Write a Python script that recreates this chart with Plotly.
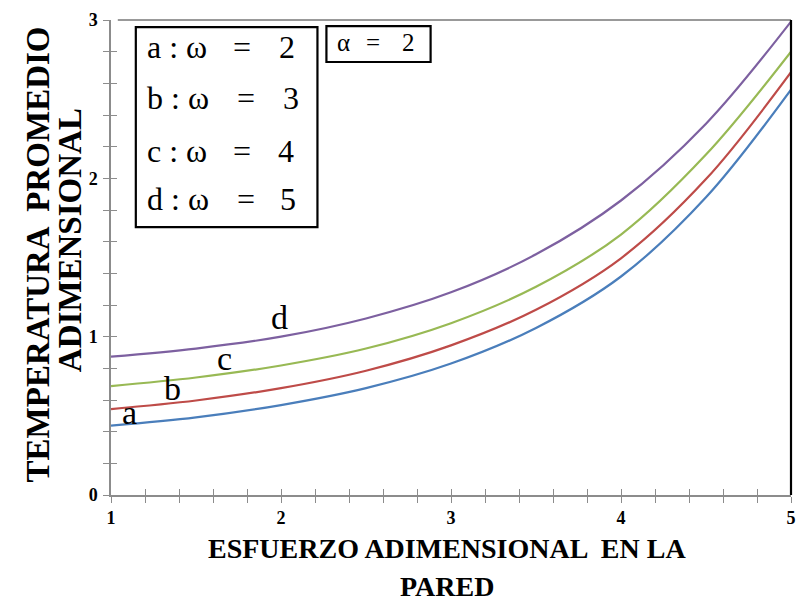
import plotly.graph_objects as go

# Dimensionless wall stress (x) and mean temperature for each omega
esfuerzo = [1.0, 1.5, 2.0, 2.5, 3.0, 3.5, 4.0, 4.5, 5.0]
temp_a = [0.438, 0.490, 0.568, 0.675, 0.830, 1.055, 1.380, 1.880, 2.56]
temp_b = [0.543, 0.597, 0.675, 0.785, 0.945, 1.170, 1.495, 1.995, 2.67]
temp_c = [0.688, 0.742, 0.818, 0.925, 1.085, 1.315, 1.645, 2.150, 2.80]
temp_d = [0.874, 0.925, 1.000, 1.115, 1.280, 1.520, 1.860, 2.345, 2.99]

curve_names = ["a", "b", "c", "d"]
omega_values = [2, 3, 4, 5]
alpha_value = 2
colors = ["#4A7EBB", "#BE4B48", "#98B954", "#7D60A0"]

# curve label positions (x, y) in data units
label_pos = [(1.11, 0.52), (1.36, 0.67), (1.67, 0.86), (1.99, 1.12)]

x_ticks = [1, 2, 3, 4, 5]
y_ticks = [0, 1, 2, 3]

SERIF = "Liberation Serif"
AXIS_GRAY = "#8c8c8c"

fig = go.Figure()
for name, ys, col in zip(curve_names, [temp_a, temp_b, temp_c, temp_d], colors):
    fig.add_trace(go.Scatter(
        x=esfuerzo, y=ys, mode="lines", name=name,
        line=dict(color=col, width=2.2, shape="spline", smoothing=1.0),
        showlegend=False, hoverinfo="skip"))

# empty trace so the overlay axes (inside half of the crossing ticks) are drawn
fig.add_trace(go.Scatter(x=[], y=[], xaxis="x2", yaxis="y2",
                         showlegend=False, hoverinfo="skip"))

annotations = []
for (lx, ly), name in zip(label_pos, curve_names):
    annotations.append(dict(x=lx, y=ly, xref="x", yref="y", text=name,
                            showarrow=False,
                            font=dict(family=SERIF, size=34, color="black")))

# omega box contents
row_y = [0.943, 0.836, 0.724, 0.624]
eq_x = [0.192, 0.199, 0.193, 0.198]
num_x = [0.259, 0.264, 0.258, 0.261]
box_font = dict(family=SERIF, size=32, color="black")
for name, om, ry, ex, nx in zip(curve_names, omega_values, row_y, eq_x, num_x):
    annotations.append(dict(x=0.050, y=ry, xref="paper", yref="paper",
                            xanchor="left", yanchor="middle",
                            text=f"{name} : ω", showarrow=False,
                            font=box_font))
    annotations.append(dict(x=ex, y=ry, xref="paper", yref="paper",
                            xanchor="center", yanchor="middle",
                            text="=", showarrow=False, font=box_font))
    annotations.append(dict(x=nx, y=ry, xref="paper", yref="paper",
                            xanchor="center", yanchor="middle",
                            text=str(om), showarrow=False, font=box_font))

# alpha box contents
alpha_y = 0.952
alpha_font = dict(family=SERIF, size=25, color="black")
annotations.append(dict(x=0.330, y=alpha_y, xref="paper", yref="paper",
                        xanchor="left", yanchor="middle", text="α",
                        showarrow=False, font=alpha_font))
annotations.append(dict(x=0.385, y=alpha_y, xref="paper", yref="paper",
                        xanchor="center", yanchor="middle", text="=",
                        showarrow=False, font=alpha_font))
annotations.append(dict(x=0.437, y=alpha_y, xref="paper", yref="paper",
                        xanchor="center", yanchor="middle",
                        text=str(alpha_value), showarrow=False,
                        font=alpha_font))

# axis titles
title_font = dict(family=SERIF, size=28, color="black")
ytitle_font = dict(family=SERIF, size=33, color="black")
annotations.append(dict(x=0.494, y=-0.1476, xref="paper", yref="paper",
                        xanchor="center", yanchor="bottom", borderpad=0,
                        text="<b>ESFUERZO ADIMENSIONAL  EN LA</b>",
                        showarrow=False, font=title_font))
annotations.append(dict(x=0.494, y=-0.2274, xref="paper", yref="paper",
                        xanchor="center", yanchor="bottom", borderpad=0,
                        text="<b>PARED</b>", showarrow=False, font=title_font))
annotations.append(dict(x=-0.107, y=0.507, xref="paper", yref="paper",
                        xanchor="center", yanchor="middle",
                        text="<b>TEMPERATURA  PROMEDIO</b>", textangle=-90,
                        showarrow=False, font=ytitle_font))
annotations.append(dict(x=-0.060, y=0.537, xref="paper", yref="paper",
                        xanchor="center", yanchor="middle",
                        text="<b>ADIMENSIONAL</b>", textangle=-90,
                        showarrow=False, font=ytitle_font))

shapes = [
    # omega box
    dict(type="rect", xref="paper", yref="paper", x0=0.0365, x1=0.3036,
         y0=0.564, y1=0.985, line=dict(color="black", width=2.2)),
    # alpha box
    dict(type="rect", xref="paper", yref="paper", x0=0.3168, x1=0.470,
         y0=0.9116, y1=0.987, line=dict(color="black", width=2.2)),
    # top frame line
    dict(type="line", xref="paper", yref="paper", x0=0.01, x1=1, y0=1, y1=1,
         line=dict(color="#777777", width=1.5)),
    # right frame line
    dict(type="line", xref="paper", yref="paper", x0=1, x1=1, y0=0, y1=1,
         line=dict(color="black", width=2.2)),
]

tick_font = dict(family=SERIF, size=18, color="black")
axis_common = dict(showgrid=False, zeroline=False)

fig.update_layout(
    width=802, height=603,
    margin=dict(l=111, r=6, t=20, b=108),
    paper_bgcolor="white", plot_bgcolor="white",
    annotations=annotations, shapes=shapes,
    xaxis=dict(range=[1, 5], tickvals=x_ticks,
               ticktext=[f"<b>{v}</b>" for v in x_ticks],
               ticks="outside", ticklen=6, tickcolor=AXIS_GRAY, tickwidth=1,
               minor=dict(dtick=0.2, tick0=1, ticks="outside", ticklen=6,
                          tickcolor=AXIS_GRAY, tickwidth=1),
               showline=True, linecolor=AXIS_GRAY, linewidth=1.5,
               tickfont=tick_font, **axis_common),
    yaxis=dict(range=[0, 3], tickvals=y_ticks,
               ticktext=[f"<b>{v}</b>" for v in y_ticks],
               ticks="outside", ticklen=6, tickcolor=AXIS_GRAY, tickwidth=1,
               minor=dict(dtick=0.2, tick0=0, ticks="outside", ticklen=6,
                          tickcolor=AXIS_GRAY, tickwidth=1),
               showline=True, linecolor=AXIS_GRAY, linewidth=1.5,
               tickfont=tick_font, ticklabelstandoff=2, **axis_common),
    xaxis2=dict(range=[1, 5], overlaying="x", anchor="y", side="bottom",
                tickvals=x_ticks, showticklabels=False,
                ticks="inside", ticklen=6, tickcolor=AXIS_GRAY, tickwidth=1,
                minor=dict(dtick=0.2, tick0=1, ticks="inside", ticklen=6,
                           tickcolor=AXIS_GRAY, tickwidth=1),
                showline=False, **axis_common),
    yaxis2=dict(range=[0, 3], overlaying="y", anchor="x", side="left",
                tickvals=y_ticks, showticklabels=False,
                ticks="inside", ticklen=6, tickcolor=AXIS_GRAY, tickwidth=1,
                minor=dict(dtick=0.2, tick0=0, ticks="inside", ticklen=6,
                           tickcolor=AXIS_GRAY, tickwidth=1),
                showline=False, **axis_common),
)

fig.write_html("out.html")
